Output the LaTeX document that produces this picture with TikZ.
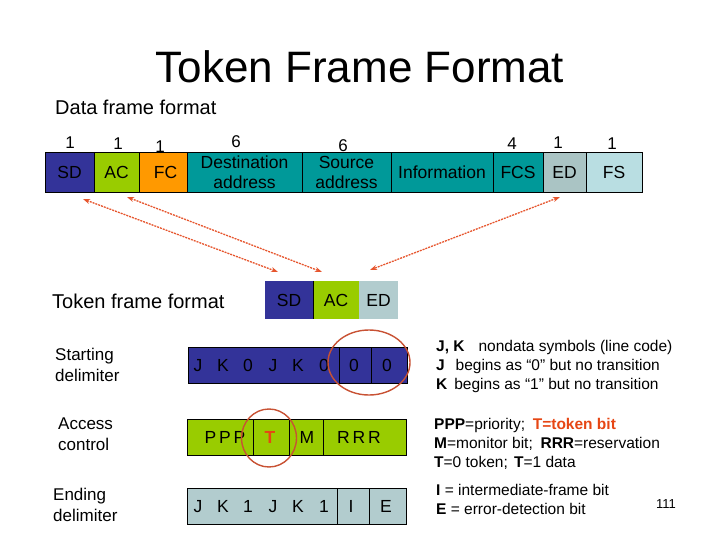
\documentclass[tikz,border=0pt]{standalone}
\usepackage{fontspec}
\setmainfont{Liberation Sans}
\usetikzlibrary{arrows.meta}
\definecolor{sdc}{RGB}{51,51,153}
\definecolor{acc}{RGB}{153,204,0}
\definecolor{fcc}{RGB}{255,153,0}
\definecolor{tealc}{RGB}{0,153,153}
\definecolor{edc}{RGB}{170,196,196}
\definecolor{fsc}{RGB}{185,222,226}
\definecolor{tedc}{RGB}{178,204,206}
\definecolor{arrc}{RGB}{230,85,45}
\definecolor{circc}{RGB}{200,82,52}
\definecolor{redt}{RGB}{230,70,20}
\begin{document}
\begin{tikzpicture}[x=1pt,y=-1pt,
  cell/.style={draw=black,line width=0.8pt,inner sep=0pt,minimum height=40pt,align=center,
    font=\fontsize{17.5}{20}\selectfont,text=black},
  tcell/.style={inner sep=0pt,minimum height=38pt,font=\fontsize{17.5}{19}\selectfont,text=black},
  num/.style={inner sep=0pt,font=\fontsize{17}{19}\selectfont},
  lbl/.style={inner sep=0pt,anchor=west,align=left,font=\fontsize{17}{21}\selectfont},
  note/.style={inner sep=0pt,anchor=west,align=left,font=\fontsize{15.5}{19}\selectfont},
  rowbox/.style={draw=black,line width=0.8pt,inner sep=0pt,minimum height=36pt},
  ch/.style={inner sep=0pt,text height=12.6pt,text depth=0pt,font=\fontsize{17.5}{19}\selectfont,text=black},
  link/.style={draw=arrc,line width=1.3pt,dash pattern=on 2pt off 1pt,
    {Stealth[length=7pt,width=5pt]}-{Stealth[length=7pt,width=5pt]}},
  ring/.style={draw=circc,line width=1.4pt}
]
\useasboundingbox (0,0) rectangle (720,540);

% title
\node[inner sep=0pt,font=\fontsize{44}{50}\selectfont] (title) at (360,67) {Token Frame Format};
\node[inner sep=0pt,anchor=west,font=\fontsize{20}{24}\selectfont] (dff) at (55,107) {Data frame format};

% data frame
\node[cell,fill=sdc,minimum width=49pt] (sd) at (69.5,172) {SD};
\node[cell,fill=acc,minimum width=45pt] (ac) at (116.5,172) {AC};
\node[cell,fill=fcc,minimum width=48pt] (fc) at (163,172) {\hspace{5pt}FC};
\node[cell,fill=tealc,minimum width=115pt] (dest) at (244.5,172) {Destination\\address};
\node[cell,fill=tealc,minimum width=89pt] (src) at (346.5,172) {Source\\address};
\node[cell,fill=tealc,minimum width=102pt] (info) at (442,172) {Information};
\node[cell,fill=tealc,minimum width=50pt] (fcs) at (518,172) {FCS};
\node[cell,fill=edc,minimum width=43pt] (ed) at (564.5,172) {ED};
\node[cell,fill=fsc,minimum width=56pt] (fs) at (614,172) {FS};

% byte counts
\node[num] (n1) at (70,143) {1};
\node[num] (n2) at (118,144) {1};
\node[num] (n3) at (160,147) {1};
\node[num] (n4) at (236,142) {6};
\node[num] (n5) at (343,146) {6};
\node[num] (n6) at (512,144) {4};
\node[num] (n7) at (558,143) {1};
\node[num] (n8) at (612,144) {1};

% token frame
\node[inner sep=0pt,anchor=west,font=\fontsize{20}{24}\selectfont] (tff) at (52,301) {Token frame format};
\node[tcell,fill=sdc,minimum width=48pt] (tsd) at (289,300) {SD};
\node[tcell,fill=acc,minimum width=46pt] (tac) at (336,300) {AC};
\node[tcell,fill=tedc,minimum width=39pt] (ted) at (378.5,300) {ED};
\draw[black,line width=0.8pt] (tsd.north east) -- (tsd.south east);

% connectors
\coordinate (a1s) at (83,199);
\coordinate (a1e) at (278,272);
\coordinate (a2s) at (127,197);
\coordinate (a2e) at (322,272);
\coordinate (a3s) at (560,197);
\coordinate (a3e) at (370,270);
\draw[link] (a1s) -- (a1e);
\draw[link] (a2s) -- (a2e);
\draw[link] (a3s) -- (a3e);

% left labels
\node[lbl] (l1) at (55,365) {Starting\\delimiter};
\node[lbl] (l2) at (58,434) {Access\\control};
\node[lbl] (l3) at (53,505) {Ending\\delimiter};

% row 1: starting delimiter
\node[rowbox,fill=sdc,minimum width=219pt] (r1) at (297.5,365) {};
\draw[black,line width=0.8pt] (339,347) -- (339,383) (371,347) -- (371,383);
\foreach \x/\c [count=\i] in {198/J,223/K,248/0,273/J,298/K,324/0,354/0,387/0}
  \node[ch] (r1c\i) at (\x,365) {\c};

% row 2: access control
\node[rowbox,fill=acc,minimum width=219pt] (r2) at (296.5,437) {};
\draw[black,line width=0.8pt] (253,419) -- (253,455) (289,419) -- (289,455) (323,419) -- (323,455);
\node[ch] (ppp) at (225,437) {P\,P\,P};
\node[ch,text=redt,font=\fontsize{17.5}{19}\selectfont\bfseries] (tt) at (270,437) {T};
\node[ch] (mm) at (307,437) {M};
\node[ch] (rrr) at (359,437) {R\,R\,R};

% row 3: ending delimiter
\node[rowbox,fill=tedc,minimum width=219pt] (r3) at (296.5,506) {};
\draw[black,line width=0.8pt] (337,488) -- (337,524) (369,488) -- (369,524);
\foreach \x/\c [count=\i] in {198/J,223/K,248/1,273/J,298/K,324/1,351/I,386/E}
  \node[ch] (r3c\i) at (\x,506) {\c};

% rings
\draw[ring] (369,362.5) ellipse [x radius=41,y radius=32.5];
\draw[ring] (269,438) ellipse [x radius=27.5,y radius=29];

% notes
\node[note] (t1) at (436,366) {\textbf{J, K}\hspace{0.9em}nondata symbols (line code)\\
  \textbf{J}\hspace{0.7em}begins as “0” but no transition\\
  \textbf{K}\hspace{0.45em}begins as “1” but no transition};
\node[note] (t2) at (434,444) {\textbf{PPP}=priority;\hspace{0.5em}{\color{redt}\bfseries T=token bit}\\
  \textbf{M}=monitor bit;\hspace{0.5em}\textbf{RRR}=reservation\\
  \textbf{T}=0 token;\hspace{0.4em}\textbf{T}=1 data};
\node[note] (t3) at (436,499.5) {\textbf{I} = intermediate-frame bit\\
  \textbf{E} = error-detection bit};
\node[inner sep=0pt,font=\fontsize{13}{15}\selectfont] (pg) at (666,504) {111};
\end{tikzpicture}
\end{document}
